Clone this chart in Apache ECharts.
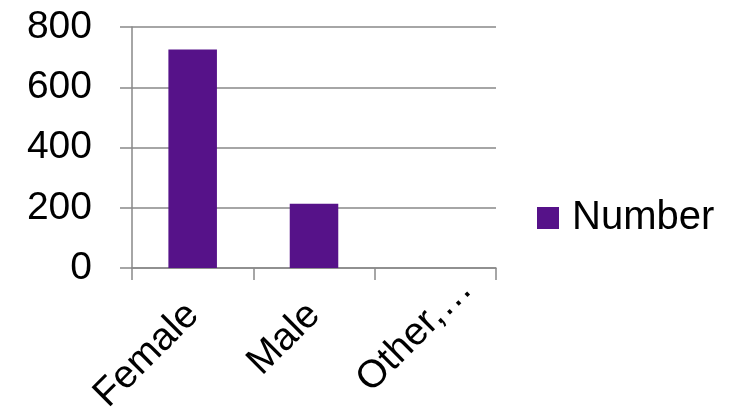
<!DOCTYPE html>
<html>
<head>
<meta charset="utf-8">
<script src="https://cdn.jsdelivr.net/npm/echarts@6/dist/echarts.min.js"></script>
<style>
  html, body { margin: 0; padding: 0; background: #fff; }
  #chart { width: 737px; height: 417px; }
</style>
</head>
<body>
<div id="chart"></div>
<script>
// chart data
const categories = ['Female', 'Male', 'Other,…'];
const numberValues = [725, 213, 0];
const yTicks = [0, 200, 400, 600, 800];

const gridColor = '#898989';
const barColor = '#561289';

const myChart = echarts.init(document.getElementById('chart'));

// the cut-off label sits further right in the original, nudge it
const xData = categories.map((name, i) => {
    if (i === categories.length - 1) {
        return { value: name, textStyle: { align: 'center' } };
    }
    return name;
});

function getOption() {
    return {
        animation: false,
        textStyle: {
            fontFamily: 'Liberation Sans, Arial, sans-serif'
        },
        grid: {
            left: 132,
            right: 241,
            top: 27,
            bottom: 149,
            outerBoundsMode: 'none'
        },
        legend: {
            left: 537,
            top: 198,
            padding: 0,
            itemWidth: 22,
            itemHeight: 22,
            icon: 'rect',
            textStyle: {
                fontSize: 40,
                color: '#000',
                padding: [0, 0, 0, 8]
            },
            data: ['Number']
        },
        xAxis: {
            type: 'category',
            data: xData,
            axisLine: {
                lineStyle: { color: gridColor, width: 1.5 }
            },
            axisTick: {
                show: true,
                length: 12,
                lineStyle: { color: gridColor, width: 1.5 }
            },
            axisLabel: {
                rotate: 45,
                fontSize: 39,
                color: '#000',
                margin: 41,
                interval: 0,
                formatter: (value, idx) => idx === categories.length - 1 ? '{o|' + value + '}' : value,
                rich: {
                    o: {
                        fontSize: 39,
                        color: '#000',
                        padding: [7, 65, 0, 0]
                    }
                }
            },
            splitLine: { show: false }
        },
        yAxis: {
            type: 'value',
            min: yTicks[0],
            max: yTicks[yTicks.length - 1],
            interval: 200,
            axisLine: {
                show: true,
                lineStyle: { color: gridColor, width: 1.5 }
            },
            axisTick: {
                show: true,
                length: 12,
                lineStyle: { color: gridColor, width: 1.5 }
            },
            axisLabel: {
                fontSize: 39,
                color: '#000',
                margin: 40
            },
            splitLine: {
                show: true,
                lineStyle: { color: gridColor, width: 1.5 }
            }
        },
        series: [{
            type: 'bar',
            name: 'Number',
            data: numberValues,
            barWidth: '40%',
            itemStyle: {
                color: barColor
            }
        }]
    };
}

myChart.setOption(getOption());
</script>
</body>
</html>
